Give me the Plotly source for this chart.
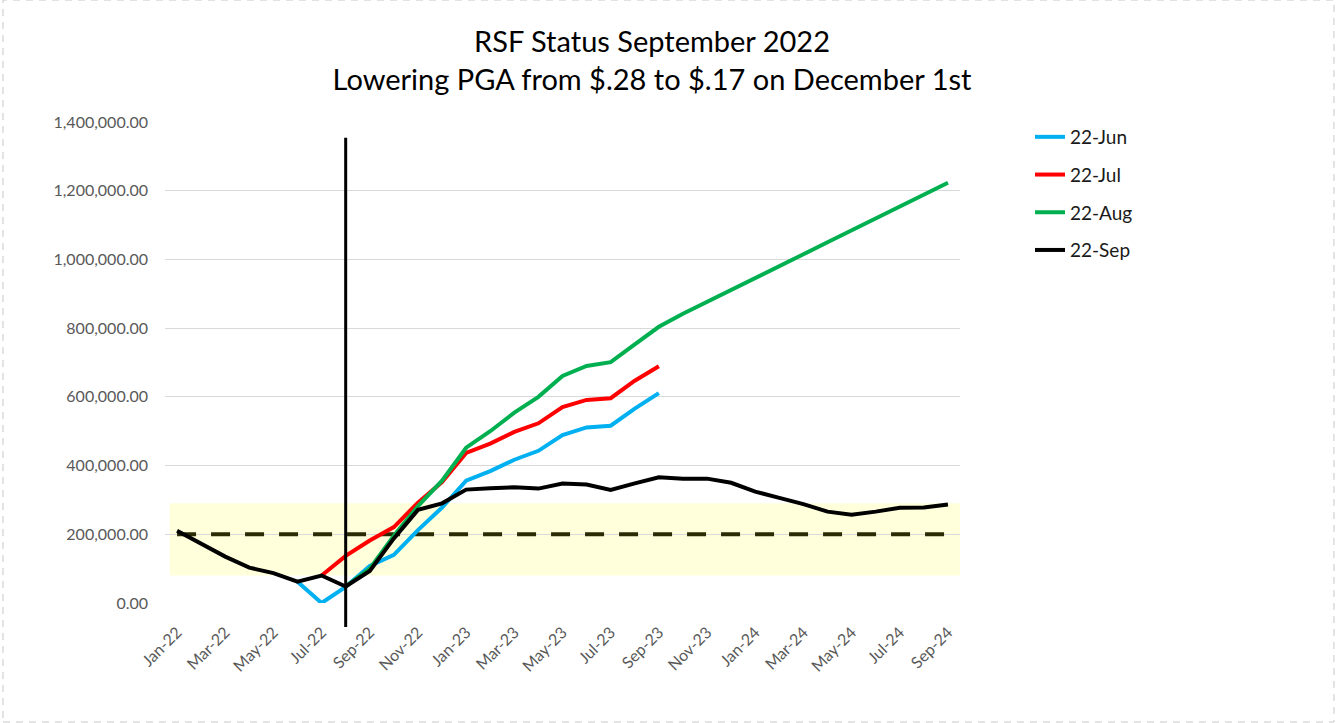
import plotly.graph_objects as go

# Month categories on the x axis (Jan-22 .. Sep-24)
months = [
    "Jan-22", "Feb-22", "Mar-22", "Apr-22", "May-22", "Jun-22", "Jul-22", "Aug-22",
    "Sep-22", "Oct-22", "Nov-22", "Dec-22", "Jan-23", "Feb-23", "Mar-23", "Apr-23",
    "May-23", "Jun-23", "Jul-23", "Aug-23", "Sep-23", "Oct-23", "Nov-23", "Dec-23",
    "Jan-24", "Feb-24", "Mar-24", "Apr-24", "May-24", "Jun-24", "Jul-24", "Aug-24",
    "Sep-24",
]

# Projection made in June 2022 (starts Jun-22)
jun_start = "Jun-22"
jun_values = [62000, 0, 47000, 108000, 140000, 212000, 278000, 356000, 384000,
              417000, 443000, 489000, 511000, 516000, 566000, 611000]

# Projection made in July 2022 (starts Jul-22)
jul_start = "Jul-22"
jul_values = [80000, 137000, 182000, 221000, 292000, 352000, 437000, 464000,
              498000, 523000, 570000, 591000, 596000, 647000, 689000]

# Projection made in August 2022 (starts Aug-22)
aug_start = "Aug-22"
aug_values = [48000, 100000, 196000, 282000, 356000, 452000, 500000, 554000,
              600000, 661000, 690000, 701000, 753000, 804000, 842000, 876000,
              911000, 947000, 981000, 1015000, 1050000, 1084000, 1118000,
              1153000, 1188000, 1223000]

# Projection made in September 2022 (full period)
sep_values = [210000, 172000, 135000, 103000, 87000, 62000, 80000, 48000,
              93000, 188000, 271000, 290000, 330000, 334000, 337000, 333000,
              348000, 345000, 329000, 348000, 366000, 362000, 362000, 350000,
              324000, 306000, 288000, 266000, 257000, 266000, 277000, 278000,
              287000]

# Target balance and acceptable band
target_value = 200000
band_low = 80000
band_high = 290000

# Month of the PGA decision marker
marker_month = "Aug-22"

y_ticks = [0, 200000, 400000, 600000, 800000, 1000000, 1200000, 1400000]
x_ticks = months[::2]

FONT = "Lato"
TICK_COLOR = "#595959"
GRID_COLOR = "#d9d9d9"


def span(start, values):
    i = months.index(start)
    return months[i:i + len(values)]


fig = go.Figure()

# Dashed target line
fig.add_trace(go.Scatter(
    x=months, y=[target_value] * len(months), mode="lines",
    line=dict(color="#2a2a05", width=4, dash="19px,15px"),
    showlegend=False, hoverinfo="skip",
))

series = [
    ("22-Jun", span(jun_start, jun_values), jun_values, "#00b0f0"),
    ("22-Jul", span(jul_start, jul_values), jul_values, "#ff0000"),
    ("22-Aug", span(aug_start, aug_values), aug_values, "#00b050"),
    ("22-Sep", months, sep_values, "#000000"),
]
for name, xs, ys, color in series:
    fig.add_trace(go.Scatter(
        x=xs, y=ys, mode="lines", name=name, legendgroup=name,
        line=dict(color=color, width=4),
    ))

shapes = [
    # acceptable range band
    dict(type="rect", xref="x", yref="y", x0=-0.3, x1=32.5,
         y0=band_low, y1=band_high, fillcolor="#ffffdc",
         line=dict(width=0), layer="below"),
    # decision marker
    dict(type="line", xref="x", yref="paper",
         x0=months.index(marker_month), x1=months.index(marker_month),
         y0=-0.05, y1=0.967, line=dict(color="#000000", width=3)),
    # chart frame
    dict(type="rect", xref="paper", yref="paper",
         x0=-0.2038, x1=1.4704, y0=-0.2474, y1=1.2536,
         line=dict(color="#c8c8c8", width=1, dash="7px,6px"),
         fillcolor="rgba(0,0,0,0)"),
]

fig.update_layout(
    width=1337, height=723,
    margin=dict(l=165, r=377, t=122, b=120),
    paper_bgcolor="white", plot_bgcolor="white",
    font=dict(family=FONT, color=TICK_COLOR),
    title=dict(
        text="RSF Status September 2022<br>Lowering PGA from $.28 to $.17 on December 1st",
        x=652 / 1337, xref="container", xanchor="center",
        y=1 - 52 / 723, yref="container", yanchor="top",
        font=dict(family=FONT, size=29, color="#000000"),
    ),
    xaxis=dict(
        type="category", categoryorder="array", categoryarray=months,
        range=[-0.5, 32.5], tickmode="array", tickvals=x_ticks, ticktext=x_ticks,
        tickangle=-45, showgrid=False, zeroline=False, showline=False, ticks="",
        ticklabelstandoff=16,
        tickfont=dict(family=FONT, size=16, color=TICK_COLOR),
    ),
    yaxis=dict(
        range=[0, 1400000], tickmode="array", tickvals=y_ticks, tickformat=",.2f",
        showgrid=True, gridcolor=GRID_COLOR, gridwidth=1.3, zeroline=False,
        showline=False, ticks="", ticklabelstandoff=16,
        tickfont=dict(family=FONT, size=16, color=TICK_COLOR),
    ),
    legend=dict(
        x=(1030 - 165) / 795, xanchor="left", y=(603 - 118) / 481, yanchor="top",
        font=dict(family=FONT, size=19, color="#1a1a1a"),
        tracegroupgap=10, bgcolor="rgba(0,0,0,0)",
    ),
    shapes=shapes,
    showlegend=True,
)

fig.write_html("out.html")
